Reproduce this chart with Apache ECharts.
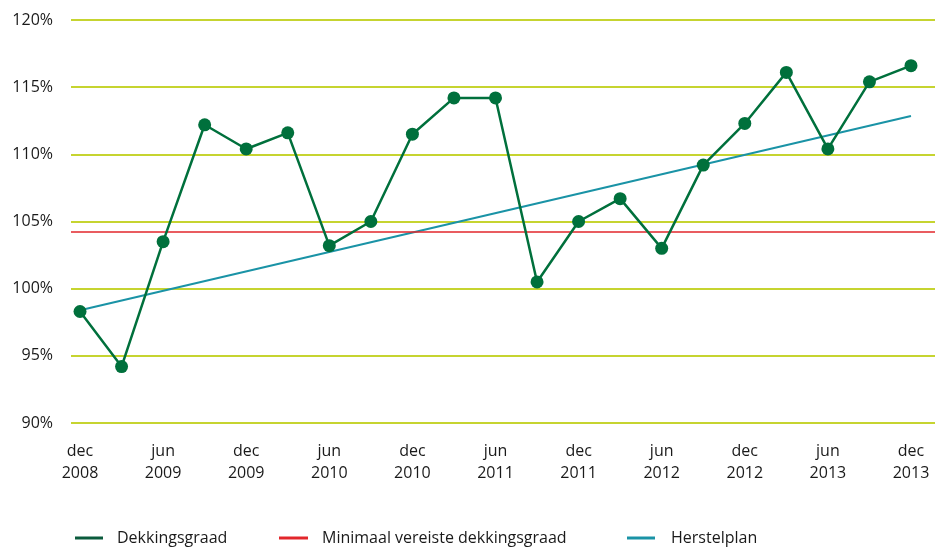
<!DOCTYPE html>
<html>
<head>
    <meta charset="utf-8">
    <title>Dekkingsgraad</title>
    <script src="https://cdn.jsdelivr.net/npm/echarts@6/dist/echarts.min.js"></script>
    <style>
        html, body { margin: 0; padding: 0; background: #fff; }
    </style>
</head>
<body>
<div id="chart-container" style="width: 935px; height: 547px;"></div>
<script>
    // kwartalen dec 2008 t/m dec 2013
    var quarters = ['dec\n2008', 'mrt\n2009', 'jun\n2009', 'sep\n2009', 'dec\n2009', 'mrt\n2010', 'jun\n2010',
        'sep\n2010', 'dec\n2010', 'mrt\n2011', 'jun\n2011', 'sep\n2011', 'dec\n2011', 'mrt\n2012', 'jun\n2012',
        'sep\n2012', 'dec\n2012', 'mrt\n2013', 'jun\n2013', 'sep\n2013', 'dec\n2013'];
    var dekkingsgraad = [98.3, 94.2, 103.5, 112.2, 110.4, 111.6, 103.2, 105.0, 111.5, 114.2, 114.2,
        100.5, 105.0, 106.7, 103.0, 109.2, 112.3, 116.1, 110.4, 115.4, 116.6];
    var minimaalVereist = 104.2;
    var herstelplanStart = 98.4;   // dec 2008
    var herstelplanEind = 112.85;  // dec 2013
    var labelTicks = [0, 2, 4, 6, 8, 10, 12, 14, 16, 18, 20];

    var font = 'Open Sans';
    var green = '#00703c';
    var red = '#e2262b';
    var teal = '#1a93a6';

    var option = {
        animation: false,
        grid: { left: 71, right: 0, top: 20, bottom: 124 },
        xAxis: {
            type: 'value',
            min: -0.217,
            max: 20.578,
            axisLine: { show: false },
            axisTick: { show: false },
            splitLine: { show: false },
            axisLabel: {
                customValues: labelTicks,
                formatter: function (v) { return quarters[Math.round(v)]; },
                color: '#1a1a1a',
                fontFamily: font,
                fontSize: 16,
                lineHeight: 22,
                margin: 17
            }
        },
        yAxis: {
            type: 'value',
            min: 90,
            max: 120,
            interval: 5,
            axisLine: { show: false },
            axisTick: { show: false },
            axisLabel: {
                formatter: '{value}%',
                color: '#1a1a1a',
                fontFamily: font,
                fontSize: 16,
                margin: 18
            },
            splitLine: { lineStyle: { color: '#c6d430', width: 2 } }
        },
        legend: [
            { left: 70, bottom: -4, itemWidth: 28, itemHeight: 3, icon: 'rect',
              textStyle: { fontFamily: font, fontSize: 16, color: '#1a1a1a', padding: [0, 0, 0, 9] },
              data: [{ name: 'Dekkingsgraad', itemStyle: { color: '#0b5b3c' } }] },
            { left: 274, bottom: -4, itemWidth: 29, itemHeight: 3, icon: 'rect',
              textStyle: { fontFamily: font, fontSize: 16, color: '#1a1a1a', padding: [0, 0, 0, 9] },
              data: [{ name: 'Minimaal vereiste dekkingsgraad', itemStyle: { color: red } }] },
            { left: 622, bottom: -4, itemWidth: 28, itemHeight: 3, icon: 'rect',
              textStyle: { fontFamily: font, fontSize: 16, color: '#1a1a1a', padding: [0, 0, 0, 11] },
              data: [{ name: 'Herstelplan', itemStyle: { color: teal } }] }
        ],
        series: [
            {
                name: 'Minimaal vereiste dekkingsgraad',
                type: 'line',
                data: [],
                itemStyle: { color: red },
                markLine: {
                    silent: true,
                    symbol: 'none',
                    label: { show: false },
                    lineStyle: { color: red, width: 1.5, type: 'solid' },
                    data: [{ yAxis: minimaalVereist }]
                }
            },
            {
                name: 'Herstelplan',
                type: 'line',
                showSymbol: false,
                itemStyle: { color: teal },
                lineStyle: { color: teal, width: 2 },
                data: [[0, herstelplanStart], [quarters.length - 1, herstelplanEind]]
            },
            {
                name: 'Dekkingsgraad',
                type: 'line',
                symbol: 'circle',
                symbolSize: 13,
                itemStyle: { color: green },
                lineStyle: { color: green, width: 2.5 },
                data: dekkingsgraad.map(function (v, i) { return [i, v]; }),
                z: 5
            }
        ]
    };

    var chart = echarts.init(document.getElementById('chart-container'));
    chart.setOption(option);
</script>
</body>
</html>
